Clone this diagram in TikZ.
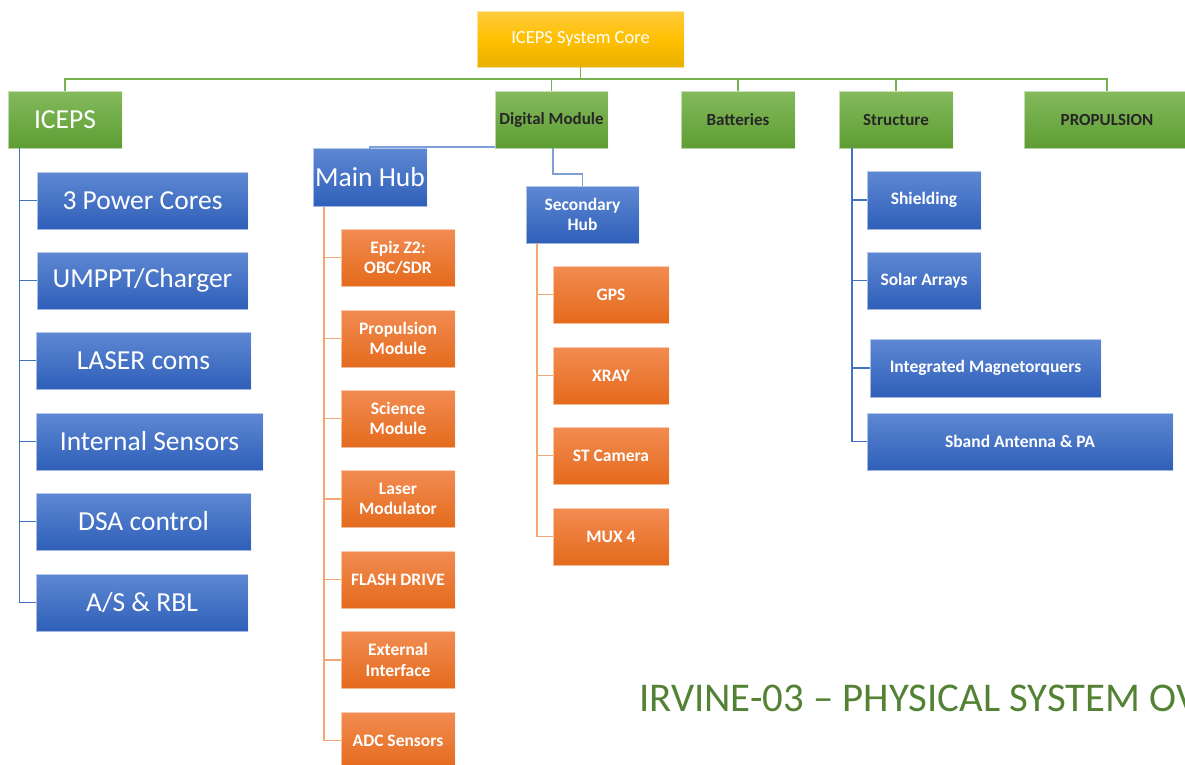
\documentclass[tikz,border=0pt]{standalone}
\usepackage{fontspec}
\setmainfont{Carlito}
\definecolor{bluetop}{HTML}{5E88D3}
\definecolor{bluebot}{HTML}{2F5FB9}
\definecolor{orangetop}{HTML}{F28C52}
\definecolor{orangebot}{HTML}{E46A1C}
\definecolor{greentop}{HTML}{84BA5C}
\definecolor{greenbot}{HTML}{5E9D33}
\definecolor{goldtop}{HTML}{FFCB3F}
\definecolor{goldmid}{HTML}{FFC000}
\definecolor{goldbot}{HTML}{E8B000}
\definecolor{blueline}{HTML}{4472C4}
\definecolor{lightblueline}{HTML}{7F9FD8}
\definecolor{orangeline}{HTML}{F4A674}
\definecolor{greenline}{HTML}{78B150}
\definecolor{titlegreen}{HTML}{548235}
\definecolor{darktext}{HTML}{262626}
\begin{document}
\begin{tikzpicture}[x=1pt,y=-1pt,
  box/.style={inner sep=0pt,outer sep=0pt,draw=white,draw opacity=0.55,line width=0.7pt,
    align=center,minimum height=57pt},
  bluebox/.style={box,top color=bluetop,bottom color=bluebot,text=white},
  orangebox/.style={box,top color=orangetop,bottom color=orangebot,text=white,
    font=\fontsize{17.5}{20.5}\selectfont\bfseries,minimum width=114pt},
  greenbox/.style={box,top color=greentop,bottom color=greenbot,text=darktext,
    font=\fontsize{17}{20}\selectfont\bfseries},
  goldbox/.style={box,top color=goldtop,bottom color=goldbot,middle color=goldmid,text=white,
    font=\fontsize{18.5}{21}\selectfont},
  bigtext/.style={font=\fontsize{27.5}{31}\selectfont},
  smalltext/.style={font=\fontsize{17.5}{20.5}\selectfont\bfseries},
  gline/.style={draw=greenline,line width=1.6pt},
  bline/.style={draw=blueline,line width=1.4pt},
  lbline/.style={draw=lightblueline,line width=1.6pt},
  oline/.style={draw=orangeline,line width=1.6pt}]
\useasboundingbox (0,0) rectangle (1185,764);
\clip (0,0) rectangle (1185,764);
\fill[white] (0,0) rectangle (1185,764);

% top level
\node[goldbox,minimum width=207pt,minimum height=56pt] (core) at (580.5,39) {ICEPS System Core};
\node[greenbox,minimum width=114pt,text=white,bigtext] (iceps) at (65,119.5) {ICEPS};
\node[greenbox,minimum width=113pt] (dm) at (551.5,119.5) {Digital Module};
\node[greenbox,minimum width=114pt] (bat) at (738,119.5) {Batteries};
\node[greenbox,minimum width=114pt] (str) at (896,119.5) {Structure};
\node[greenbox,minimum width=166pt] (prop) at (1107,119.5) {PROPULSION};

% ICEPS children
\node[bluebox,bigtext,minimum width=211pt] (pc) at (142.5,200.5) {3 Power Cores};
\node[bluebox,bigtext,minimum width=211pt] (um) at (142.5,280.5) {UMPPT/Charger};
\node[bluebox,bigtext,minimum width=215pt] (lc) at (143.5,360.5) {LASER coms};
\node[bluebox,bigtext,minimum width=227pt] (is) at (149.5,441.5) {Internal Sensors};
\node[bluebox,bigtext,minimum width=215pt] (dsa) at (143.5,521.5) {DSA control};
\node[bluebox,bigtext,minimum width=212pt] (as) at (142,602.5) {A/S \& RBL};

% Main hub
\node[bluebox,bigtext,minimum width=114pt,minimum height=58pt] (mh) at (370,177.5) {Main Hub};
\node[orangebox] (epiz) at (398,257.5) {Epiz Z2:\\OBC/SDR};
\node[orangebox] (pm) at (398,338.5) {Propulsion\\Module};
\node[orangebox] (sci) at (398,418.5) {Science\\Module};
\node[orangebox] (lm) at (398,499) {Laser\\Modulator};
\node[orangebox] (fd) at (398,579.5) {FLASH DRIVE};
\node[orangebox] (ei) at (398,660) {External\\Interface};
\node[orangebox] (adc) at (398,740.5) {ADC Sensors};

% Secondary hub
\node[bluebox,smalltext,minimum width=113pt] (sh) at (582.5,214.5) {Secondary\\Hub};
\node[orangebox,minimum width=116pt] (gps) at (611,294.5) {GPS};
\node[orangebox,minimum width=116pt] (xray) at (611,375.5) {XRAY};
\node[orangebox,minimum width=116pt] (st) at (611,455.5) {ST Camera};
\node[orangebox,minimum width=116pt] (mux) at (611,536.5) {MUX 4};

% Structure children
\node[bluebox,smalltext,minimum width=114pt,minimum height=58pt] (sd) at (924,200) {Shielding};
\node[bluebox,smalltext,minimum width=114pt] (sa) at (924,280.5) {Solar Arrays};
\node[bluebox,smalltext,minimum width=231pt,minimum height=58pt] (im) at (985.5,368) {Integrated Magnetorquers};
\node[bluebox,smalltext,minimum width=306pt] (sb) at (1020,441.5) {Sband Antenna \& PA};

% connectors: top bus
\coordinate (bus) at (580.5,79);
\draw[gline] (core.south) -- (core.south |- bus);
\foreach \n in {iceps,dm,bat,str,prop}{
  \draw[gline] (core.south |- bus) -| (\n.north);
}

% ICEPS tree
\coordinate (ix) at (19.5,0);
\foreach \n in {pc,um,lc,is,dsa,as}{
  \draw[bline] (iceps.south -| ix) |- (\n.west);
}

% digital module to hubs
\draw[lbline] (dm.south west) ++(0,-0.8) -| (mh.north);
\coordinate (sdrop) at (553,174);
\draw[lbline] (dm.south -| sdrop) -- (sdrop) -| (sh.north);

% main hub tree
\coordinate (mx) at (324,0);
\foreach \n in {epiz,pm,sci,lm,fd,ei,adc}{
  \draw[oline] (mh.south -| mx) |- (\n.west);
}

% secondary hub tree
\coordinate (sx) at (537,0);
\foreach \n in {gps,xray,st,mux}{
  \draw[oline] (sh.south -| sx) |- (\n.west);
}

% structure tree
\coordinate (tx) at (852,0);
\foreach \n in {sd,sa,im,sb}{
  \draw[bline] (str.south -| tx) |- (\n.west);
}

% title (cut at the right edge, as in the reference)
\node[anchor=base west,inner sep=0pt,text=titlegreen,font=\fontsize{40.8}{45}\selectfont] (title) at (639,711) {IRVINE-03 – PHYSICAL SYSTEM OV};
\end{tikzpicture}
\end{document}
